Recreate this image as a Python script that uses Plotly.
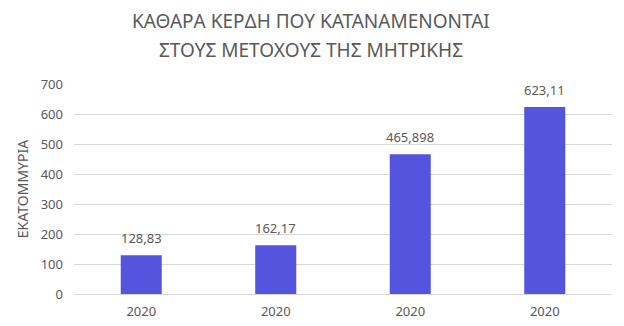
import plotly.graph_objects as go

categories = ["2020", "2020", "2020", "2020"]
values = [128.83, 162.17, 465.898, 623.11]
value_labels = ["128,83", "162,17", "465,898", "623,11"]
title_lines = ["ΚΑΘΑΡΑ ΚΕΡΔΗ ΠΟΥ ΚΑΤΑΝΑΜΕΝΟΝΤΑΙ", "ΣΤΟΥΣ ΜΕΤΟΧΟΥΣ ΤΗΣ ΜΗΤΡΙΚΗΣ"]
y_title = "ΕΚΑΤΟΜΜΥΡΙΑ"

positions = list(range(len(categories)))
font_family = "Noto Sans, Open Sans, sans-serif"
grey = "#595959"

fig = go.Figure(go.Bar(
    x=positions, y=values, width=0.305,
    marker=dict(color="#5454DE", line=dict(width=0)),
    hoverinfo="skip",
))

annotations = []
for xp, v, lab in zip(positions, values, value_labels):
    annotations.append(dict(
        x=xp, y=v, xref="x", yref="y", text=lab, showarrow=False,
        yanchor="bottom", yshift=6, font=dict(size=13, color=grey),
    ))

plot_h = 326 - 84 - 32
for line, ypix in zip(title_lines, [21, 50]):
    annotations.append(dict(
        text=line, xref="paper", yref="paper",
        x=(311 - 74) / (624 - 74 - 12), xanchor="center",
        y=(326 - 32 - ypix) / plot_h, yanchor="middle",
        showarrow=False, font=dict(size=19, color=grey),
    ))

fig.update_layout(
    width=624, height=326,
    margin=dict(l=74, r=12, t=84, b=32, autoexpand=False),
    paper_bgcolor="white", plot_bgcolor="white",
    showlegend=False,
    font=dict(family=font_family, color=grey),
    xaxis=dict(
        tickmode="array", tickvals=positions, ticktext=categories,
        range=[-0.5, len(categories) - 0.5],
        showgrid=False, zeroline=False, showline=False,
        tickfont=dict(size=13, color=grey), ticks="", ticklen=0,
        ticklabelstandoff=8, automargin=False,
    ),
    yaxis=dict(
        range=[0, 700], dtick=100, showgrid=True, gridcolor="#D9D9D9", gridwidth=1,
        zeroline=True, zerolinecolor="#D9D9D9", zerolinewidth=1,
        showline=False, tickfont=dict(size=13, color=grey), ticks="",
        ticklabelstandoff=10, automargin=False,
        title=dict(text=y_title, font=dict(size=14, color=grey), standoff=8),
    ),
    annotations=annotations,
)

fig.write_html("out.html")
